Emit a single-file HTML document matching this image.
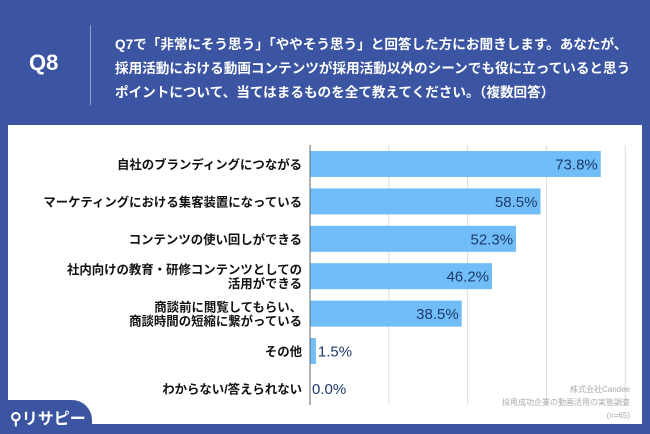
<!DOCTYPE html>
<html><head><meta charset="utf-8"><style>
body{margin:0;width:650px;height:434px;background:#3b55a3;overflow:hidden;font-family:"Liberation Sans","Noto Sans CJK JP",sans-serif;position:relative}
.abs{position:absolute}
</style></head><body>
<div class="abs" style="left:29px;top:50px;width:40px;color:#fff;font-size:22px;font-weight:bold">Q8</div>
<div class="abs" style="left:90px;top:25px;width:1px;height:80px;background:#8fa0d0"></div>
<div class="abs" style="left:115px;top:33px;color:#fff;font-size:13.6px;font-weight:bold;line-height:24px;white-space:nowrap">Q7で「非常にそう思う」「ややそう思う」と回答した方にお聞きします。あなたが、<br>採用活動における動画コンテンツが採用活動以外のシーンでも役に立っていると思う<br>ポイントについて、当てはまるものを全て教えてください。（複数回答）</div>
<div class="abs" style="left:8px;top:125px;width:634px;height:299px;background:#fff"></div>
<svg class="abs" style="left:0;top:0" width="650" height="434" id="chart"></svg>
<div class="abs" style="left:0;top:400px;width:92px;height:34px;background:#3b55a3;border-top-right-radius:20px"></div>
<div class="abs" style="left:10px;top:405px;color:#fff;font-size:16px;font-weight:bold">⚲リサピー</div>
<div class="abs" style="right:20px;top:383px;color:#aaa;font-size:8px;text-align:right;line-height:13px">株式会社Candee<br>採用成功企業の動画活用の実態調査<br>(n=65)</div>
<script>
const categories=["自社のブランディングにつながる","マーケティングにおける集客装置になっている","コンテンツの使い回しができる","社内向けの教育・研修コンテンツとしての\n活用ができる","商談前に閲覧してもらい、\n商談時間の短縮に繋がっている","その他","わからない/答えられない"];
const values=[73.8,58.5,52.3,46.2,38.5,1.5,0.0];
const gridTicks=[20,40,60,80];
const svg=document.getElementById('chart');const NS='http://www.w3.org/2000/svg';
const x0=310,pxPer=3.94,y0=164,step=37.4,bh=26;
const xs=v=>x0+v*pxPer, ys=i=>y0+i*step;
function mk(t,a){const e=document.createElementNS(NS,t);for(const k in a)e.setAttribute(k,a[k]);svg.appendChild(e);return e;}
gridTicks.forEach(t=>{const l=mk('line',{x1:xs(t),x2:xs(t),y1:145,y2:405,stroke:'#ddd','stroke-width':1});

});
values.forEach((v,i)=>{
const r=mk('rect',{x:x0,y:ys(i)-bh/2,width:v*pxPer,height:bh,fill:'#70bdf8'});


const inside=v>20;
const t=mk('text',{x:inside?xs(v)-3:xs(v)+2,y:ys(i)+5.5,'text-anchor':inside?'end':'start','font-size':15,fill:'#1e3a6b'});
t.textContent=v.toFixed(1)+'%';


const lines=categories[i].split('\n');
lines.forEach((ln,j)=>{const c=mk('text',{x:302,y:ys(i)+5+(j-(lines.length-1)/2)*14,'text-anchor':'end','font-size':12.4,'font-weight':'bold',fill:'#111'});
c.textContent=ln;

});
});
const ax=mk('line',{x1:x0,x2:x0,y1:145,y2:405,stroke:'#666','stroke-width':1});


</script>
</body></html>
